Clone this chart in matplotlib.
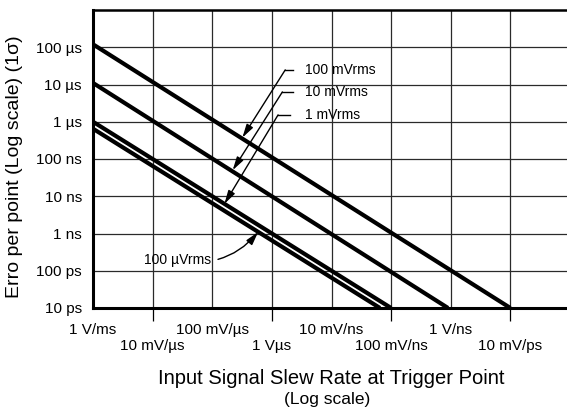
import numpy as np
import matplotlib.pyplot as plt
from matplotlib.ticker import FixedLocator, FixedFormatter, NullFormatter

plt.rcParams['font.family'] = ['Liberation Sans', 'DejaVu Sans']

# slew rate decades (V/s) and their labels, split over two label rows
x_major = [1e3, 1e5, 1e7, 1e9]
x_major_labels = ['1 V/ms', '100 mV/\u00b5s', '10 mV/ns', '1 V/ns']
x_minor = [1e4, 1e6, 1e8, 1e10]
x_minor_labels = ['10 mV/\u00b5s', '1 V\u00b5s', '100 mV/ns', '10 mV/ps']

# error decades (s)
y_ticks = [1e-11, 1e-10, 1e-9, 1e-8, 1e-7, 1e-6, 1e-5, 1e-4]
y_labels = ['10 ps', '100 ps', '1 ns', '10 ns', '100 ns', '1 \u00b5s', '10 \u00b5s', '100 \u00b5s']

# one line per noise level: error at 1 V/ms down to where it reaches 10 ps
noise_labels = ['100 mVrms', '10 mVrms', '1 mVrms', '100 \u00b5Vrms']
err_start = [1.2e-4, 1.1e-5, 1.0e-6, 6.5e-7]
slew_end = [1.0e10, 9.0e8, 1.0e8, 6.5e7]
slew_start = 1e3
err_end = 1e-11

# slew rate where each leader arrow lands on its line
arrow_slew = [3.2e5, 2.2e5, 1.6e5, 5.9e5]

fig = plt.figure(figsize=(5.67, 4.07), dpi=100)
ax = fig.add_axes([93 / 567, 99 / 407, 477 / 567, 298 / 407])
ax.set_xscale('log')
ax.set_yscale('log')
ax.set_xlim(1e3, 1e11)
ax.set_ylim(1e-11, 1e-3)

# grid at every decade
for xv in x_major + x_minor:
    ax.axvline(xv, color='#2a2a2a', lw=0.9, zorder=1)
for yv in y_ticks:
    ax.axhline(yv, color='#2a2a2a', lw=0.9, zorder=1)

for e0, s1 in zip(err_start, slew_end):
    ax.plot([slew_start, s1], [e0, err_end], color='black', lw=3.0,
            solid_capstyle='butt', zorder=3)

ax.xaxis.set_major_locator(FixedLocator(x_major))
ax.xaxis.set_major_formatter(FixedFormatter(x_major_labels))
ax.xaxis.set_minor_locator(FixedLocator(x_minor))
ax.xaxis.set_minor_formatter(FixedFormatter(x_minor_labels))
ax.tick_params(axis='x', which='major', length=0, pad=10.5, labelsize=11)
ax.tick_params(axis='x', which='minor', length=9, width=0.9, pad=13,
               labelsize=11, direction='out')
ax.yaxis.set_major_locator(FixedLocator(y_ticks))
ax.yaxis.set_major_formatter(FixedFormatter(y_labels))
ax.yaxis.set_minor_formatter(NullFormatter())
ax.tick_params(axis='y', which='both', length=0, pad=8, labelsize=11)

for side in ['left', 'bottom']:
    ax.spines[side].set_linewidth(2.2)
ax.spines['top'].set_linewidth(1.8)
ax.spines['right'].set_visible(False)

# leader labels for the three upper lines
text_y = [0.799, 0.725, 0.648]
corner_x = [0.403, 0.397, 0.388]
seg_end_x = [0.419, 0.419, 0.413]
for i in range(3):
    tip_y = err_start[i] * slew_start / arrow_slew[i]
    ax.text(0.444, text_y[i], noise_labels[i], transform=ax.transAxes,
            ha='left', va='center', fontsize=10)
    ax.plot([corner_x[i], seg_end_x[i]], [text_y[i], text_y[i]],
            transform=ax.transAxes, color='black', lw=1.0, zorder=4)
    ax.annotate('', xy=(arrow_slew[i], tip_y), xycoords='data',
                xytext=(corner_x[i], text_y[i]), textcoords='axes fraction',
                arrowprops=dict(arrowstyle='-|>,head_length=0.8,head_width=0.22',
                                color='black', lw=1.0, shrinkA=0, shrinkB=0),
                zorder=4)

# curved leader for the lowest line
tip_y = err_start[3] * slew_start / arrow_slew[3]
ax.annotate(noise_labels[3], xy=(arrow_slew[3], tip_y), xycoords='data',
            xytext=(0.107, 0.161), textcoords='axes fraction',
            ha='left', va='center', fontsize=10,
            arrowprops=dict(arrowstyle='-|>,head_length=0.8,head_width=0.22',
                            color='black', lw=1.0, shrinkA=3, shrinkB=0,
                            connectionstyle='arc3,rad=0.3'),
            zorder=4)

ax.text(0.499, -0.235, 'Input Signal Slew Rate at Trigger Point',
        transform=ax.transAxes, ha='center', va='center', fontsize=14.5)
ax.text(0.491, -0.307, '(Log scale)', transform=ax.transAxes,
        ha='center', va='center', fontsize=12.5)
ax.set_ylabel('Erro per point (Log scale) (1\u03c3)', fontsize=14)
ax.yaxis.set_label_coords(-0.146, 0.473)

fig.savefig('out.png', dpi=100)
